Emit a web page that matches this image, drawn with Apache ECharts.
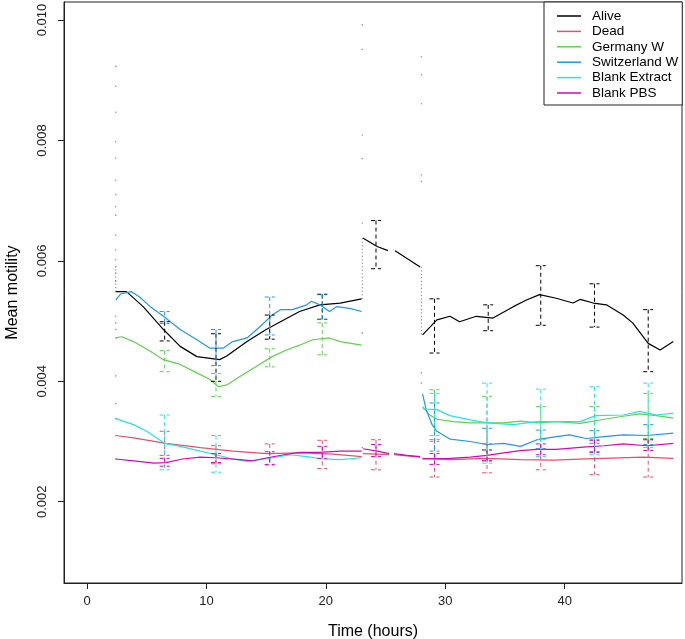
<!DOCTYPE html>
<html><head><meta charset="utf-8">
<script src="https://cdn.jsdelivr.net/npm/echarts@6/dist/echarts.min.js"></script>
<style>html,body{margin:0;padding:0;background:#fff}#c{width:685px;height:639px}</style>
</head><body><div id="c"></div>
<script>
// ---- tick labels ----
var xTicks = [0, 10, 20, 30, 40];
var yTicks = [0.002, 0.004, 0.006, 0.008, 0.010];
var names = ['Alive', 'Dead', 'Germany W', 'Switzerland W', 'Blank Extract', 'Blank PBS'];
var colors = ['#000000', '#DF536B', '#61D04F', '#2297E6', '#28E2E5', '#CD0BBC'];

// ---- Alive ----
var aliveX1 = [2.4, 3.3, 4.7, 6.4, 7.8, 9.2, 11.1, 11.7, 13.4, 15.0, 16.2, 17.8, 19.5, 21.2, 23.0];
var aliveY1 = [0.00549, 0.00549, 0.00524, 0.00486, 0.00458, 0.00441, 0.00436, 0.00442, 0.00466, 0.00486, 0.00499, 0.00516, 0.00527, 0.0053, 0.00537];
var aliveX2a = [23.1, 24.3, 25.2];
var aliveY2a = [0.00638, 0.00624, 0.00617];
var aliveX2b = [25.8, 26.8, 27.9];
var aliveY2b = [0.00617, 0.00604, 0.0059];
var aliveX3 = [28.1, 29.3, 30.4, 31.2, 32.6, 34.0, 35.7, 36.8, 37.9, 39.3, 40.7, 41.3, 42.4, 43.5, 44.9, 45.7, 47.0, 48.0, 49.1];
var aliveY3 = [0.00477, 0.00502, 0.00508, 0.00499, 0.00508, 0.00505, 0.00524, 0.00535, 0.00544, 0.00538, 0.0053, 0.00536, 0.0053, 0.00527, 0.0051, 0.00497, 0.00463, 0.00452, 0.00466];

// ---- Dead ----
var deadX1 = [2.4, 3.9, 6.6, 9.5, 12.2, 15.1, 17.8, 20.6, 23.0];
var deadY1 = [0.0031, 0.00306, 0.00297, 0.0029, 0.00284, 0.0028, 0.00281, 0.00279, 0.00275];
var deadX2a = [23.1, 24.3, 25.3];
var deadY2a = [0.0028, 0.00279, 0.00278];
var deadX2b = [25.7, 26.8, 27.9];
var deadY2b = [0.00278, 0.00276, 0.00274];
var deadX3 = [28.1, 30.4, 33.5, 36.3, 39.1, 41.8, 46.6, 49.1];
var deadY3 = [0.00272, 0.0027, 0.00272, 0.0027, 0.00269, 0.00271, 0.00274, 0.00272];

// ---- Germany W ----
var gerX1 = [2.4, 2.9, 3.9, 5.3, 6.4, 7.8, 9.2, 10.3, 11.0, 11.7, 12.8, 14.2, 15.5, 16.7, 17.8, 18.9, 20.3, 21.2, 23.0];
var gerY1 = [0.00472, 0.00474, 0.00466, 0.0045, 0.00436, 0.00428, 0.00414, 0.00403, 0.00391, 0.00394, 0.00408, 0.00425, 0.00441, 0.00452, 0.0046, 0.00469, 0.00472, 0.00466, 0.0046];
var gerX3 = [28.1, 28.7, 29.3, 30.7, 32.1, 34.9, 36.3, 37.7, 39.3, 41.3, 43.3, 44.9, 46.3, 47.7, 49.1];
var gerY3 = [0.00358, 0.00344, 0.00337, 0.00333, 0.00331, 0.00331, 0.00334, 0.00331, 0.00333, 0.0033, 0.00337, 0.00342, 0.00346, 0.00343, 0.00339];

// ---- Switzerland W ----
var swiX1 = [2.4, 2.8, 3.7, 4.4, 5.3, 6.4, 7.8, 9.2, 10.3, 11.4, 12.2, 13.4, 14.5, 15.5, 16.2, 17.2, 18.4, 18.8, 19.5, 20.3, 20.9, 22.0, 23.0];
var swiY1 = [0.00535, 0.00545, 0.00549, 0.0054, 0.00524, 0.00508, 0.00486, 0.00469, 0.00455, 0.00455, 0.00466, 0.00472, 0.00491, 0.0051, 0.00519, 0.00519, 0.00527, 0.00533, 0.00527, 0.00516, 0.00524, 0.00521, 0.00516];
var swiX3 = [28.1, 28.4, 28.9, 29.3, 30.4, 32.1, 33.5, 34.9, 36.3, 37.7, 39.3, 40.4, 41.8, 43.3, 44.9, 46.9, 49.1];
var swiY3 = [0.00379, 0.00353, 0.00328, 0.00317, 0.00304, 0.003, 0.00295, 0.00297, 0.00292, 0.00303, 0.00308, 0.00311, 0.00305, 0.00308, 0.00311, 0.0031, 0.00314];

// ---- Blank Extract ----
var extX1 = [2.4, 3.9, 5.0, 6.5, 7.8, 9.5, 10.8, 12.2, 13.4, 14.5, 15.6, 17.0, 18.4, 19.8, 21.2, 23.0];
var extY1 = [0.00338, 0.00328, 0.00317, 0.00297, 0.00292, 0.00284, 0.00278, 0.00271, 0.00267, 0.0027, 0.00273, 0.00278, 0.00275, 0.00271, 0.0027, 0.00273];
var extX3 = [28.1, 29.3, 30.4, 32.1, 33.5, 35.7, 37.7, 39.3, 41.3, 42.6, 44.9, 46.3, 47.7, 49.1];
var extY3 = [0.00354, 0.00353, 0.00343, 0.00336, 0.00331, 0.00328, 0.00333, 0.00333, 0.00333, 0.00343, 0.00344, 0.0035, 0.00344, 0.00347];

// ---- Blank PBS ----
var pbsX1 = [2.4, 3.9, 5.6, 6.6, 8.0, 9.5, 10.8, 12.8, 13.9, 15.1, 16.5, 17.8, 19.5, 21.2, 23.0];
var pbsY1 = [0.00271, 0.00268, 0.00264, 0.00265, 0.00271, 0.00274, 0.00273, 0.0027, 0.00268, 0.00273, 0.00278, 0.00282, 0.00282, 0.00284, 0.00284];
var pbsX2a = [23.1, 24.3, 25.3];
var pbsY2a = [0.00288, 0.00284, 0.0028];
var pbsX2b = [25.7, 26.8, 27.9];
var pbsY2b = [0.0028, 0.00277, 0.00275];
var pbsX3 = [28.1, 30.4, 32.1, 33.5, 34.9, 36.3, 37.7, 39.3, 41.8, 43.3, 44.9, 46.9, 49.1];
var pbsY3 = [0.00271, 0.00272, 0.00274, 0.00277, 0.00281, 0.00285, 0.00287, 0.00287, 0.00291, 0.00293, 0.00296, 0.00293, 0.00297];

// ---- error bars [time, low, high] ----
var errAlive = [[6.5, 0.00467, 0.00499], [10.8, 0.0040, 0.00479], [15.3, 0.0047, 0.0051], [19.7, 0.00503, 0.00544], [24.2, 0.00587, 0.00667],
  [29.1, 0.00447, 0.00537], [33.6, 0.00484, 0.00527], [38.0, 0.00493, 0.00592], [42.5, 0.0049, 0.00562], [47.0, 0.00416, 0.00519]];
var errDead = [[6.5, 0.00277, 0.00317], [10.8, 0.00263, 0.00293], [15.3, 0.00261, 0.00296], [19.7, 0.00255, 0.00302], [24.2, 0.00253, 0.00303],
  [29.1, 0.00241, 0.00303], [33.5, 0.00248, 0.00296], [38.0, 0.00253, 0.00288], [42.5, 0.00245, 0.00297], [47.0, 0.00241, 0.00303]];
var errGer = [[6.5, 0.00416, 0.00451], [10.8, 0.00375, 0.00413], [15.3, 0.00424, 0.00454], [19.7, 0.00444, 0.00497],
  [29.1, 0.003, 0.00386], [33.5, 0.00286, 0.00375], [38.0, 0.00303, 0.00358], [42.5, 0.00303, 0.00358], [47.0, 0.00305, 0.0038]];
var errSwi = [[6.5, 0.00496, 0.00516], [10.8, 0.00426, 0.00486], [15.3, 0.00477, 0.0054], [19.7, 0.00503, 0.00545],
  [29.1, 0.00284, 0.00364], [33.5, 0.00268, 0.00322], [38.0, 0.00288, 0.00319], [42.5, 0.00283, 0.00318], [47.0, 0.00295, 0.00328]];
var errExt = [[6.5, 0.00253, 0.00344], [10.8, 0.00249, 0.0031],
  [29.1, 0.0031, 0.0038], [33.5, 0.00264, 0.00397], [38.0, 0.00275, 0.00387], [42.5, 0.00278, 0.00391], [47.0, 0.0029, 0.00397]];
var errPbs = [[6.5, 0.00259, 0.00272], [10.8, 0.00265, 0.0028], [15.3, 0.00262, 0.00283], [19.7, 0.00272, 0.00292], [24.2, 0.00275, 0.00295],
  [29.1, 0.00262, 0.0028], [33.5, 0.00268, 0.00286], [38.0, 0.00278, 0.00296], [42.5, 0.00282, 0.00302], [47.0, 0.00285, 0.00303]];

// ---- scattered first-observation dots and dotted jumps ----
var dots = [[2.4, 0.00923], [2.4, 0.0089], [2.4, 0.00847], [2.4, 0.00798], [2.4, 0.00771], [2.4, 0.00734], [2.4, 0.0071], [2.4, 0.0069],
  [2.4, 0.00676], [2.4, 0.00643], [2.4, 0.00618], [2.4, 0.00602], [2.4, 0.0059], [2.4, 0.0058], [2.4, 0.00566], [2.4, 0.00508],
  [2.4, 0.00497], [2.4, 0.00486], [2.4, 0.00472], [2.4, 0.00409], [2.4, 0.00363], [2.4, 0.00338], [2.4, 0.0031], [2.4, 0.00271],
  [23.05, 0.00992], [23.05, 0.00951], [23.05, 0.00809], [23.05, 0.0077], [23.05, 0.00663], [23.05, 0.0048], [23.05, 0.0029],
  [28.0, 0.00939], [28.0, 0.00909], [28.0, 0.00861], [28.0, 0.00743], [28.0, 0.00732], [28.0, 0.00414], [28.0, 0.00397]];
var jumpA = [[23.05, 0.00537], [23.05, 0.00638]];
var jumpB = [[28.0, 0.0059], [28.0, 0.00477]];
var jumpC = [[2.4, 0.00549], [2.4, 0.0059]];

function pairs(xs, ys) { return xs.map(function (x, i) { return [x, ys[i]]; }); }
function joinSegs(segs) {
  var out = [];
  segs.forEach(function (s, i) {
    if (i > 0) out.push([s[0][0] - 0.05, null]);
    out = out.concat(s);
  });
  return out;
}

var lineData = [
  joinSegs([pairs(aliveX1, aliveY1), pairs(aliveX2a, aliveY2a), pairs(aliveX2b, aliveY2b), pairs(aliveX3, aliveY3)]),
  joinSegs([pairs(deadX1, deadY1), pairs(deadX2a, deadY2a), pairs(deadX2b, deadY2b), pairs(deadX3, deadY3)]),
  joinSegs([pairs(gerX1, gerY1), pairs(gerX3, gerY3)]),
  joinSegs([pairs(swiX1, swiY1), pairs(swiX3, swiY3)]),
  joinSegs([pairs(extX1, extY1), pairs(extX3, extY3)]),
  joinSegs([pairs(pbsX1, pbsY1), pairs(pbsX2a, pbsY2a), pairs(pbsX2b, pbsY2b), pairs(pbsX3, pbsY3)])
];
var errData = [errAlive, errDead, errGer, errSwi, errExt, errPbs];

var series = [];
names.forEach(function (n, i) {
  series.push({
    name: n, type: 'line', data: lineData[i], showSymbol: false, symbol: 'none',
    connectNulls: false, color: colors[i],
    lineStyle: { width: 1.2, color: colors[i] }, z: 2, silent: true
  });
});
names.forEach(function (n, i) {
  var c = colors[i];
  series.push({
    name: n + ' err', type: 'custom', data: errData[i], encode: { x: 0, y: [1, 2] }, z: 3, silent: true,
    renderItem: function (params, api) {
      var x = api.value(0), lo = api.value(1), hi = api.value(2);
      var pLo = api.coord([x, lo]), pHi = api.coord([x, hi]);
      var w = 5;
      var st = { stroke: c, lineWidth: 1, lineDash: [4, 3], fill: null };
      return { type: 'group', children: [
        { type: 'line', shape: { x1: pLo[0], y1: pHi[1], x2: pLo[0], y2: pLo[1] }, style: st },
        { type: 'line', shape: { x1: pHi[0] - w, y1: pHi[1], x2: pHi[0] + w, y2: pHi[1] }, style: st },
        { type: 'line', shape: { x1: pLo[0] - w, y1: pLo[1], x2: pLo[0] + w, y2: pLo[1] }, style: st }
      ] };
    }
  });
});
series.push({ name: 'dots', type: 'scatter', data: dots, symbolSize: 1.6, itemStyle: { color: '#7a7a9a' }, silent: true, z: 1 });
[jumpA, jumpB, jumpC].forEach(function (j) {
  series.push({ name: 'jump', type: 'line', data: j, showSymbol: false, symbol: 'none', silent: true,
    lineStyle: { width: 1, type: [1, 2.5], color: '#666' }, z: 1 });
});

var FONT = 'Liberation Sans, Arial, sans-serif';
var chart = echarts.init(document.getElementById('c'), null, { renderer: 'canvas' });
chart.setOption({
  animation: false,
  backgroundColor: '#fff',
  grid: { left: 64, right: 3, top: 2, bottom: 56, outerBoundsMode: 'none', containLabel: false,
    show: true, borderColor: '#222', borderWidth: 1, backgroundColor: 'transparent' },
  xAxis: {
    type: 'value', min: -1.93, max: 49.83,
    name: 'Time (hours)', nameLocation: 'middle', nameGap: 41,
    nameTextStyle: { fontFamily: FONT, fontSize: 16, color: '#000' },
    axisLine: { show: true, onZero: false, lineStyle: { color: '#222', width: 1 } },
    axisTick: { show: true, length: 6, lineStyle: { color: '#222' }, customValues: xTicks },
    axisLabel: { show: true, margin: 12, fontFamily: FONT, fontSize: 13, color: '#222', customValues: xTicks,
      formatter: function (v) { return String(v); } },
    splitLine: { show: false }
  },
  yAxis: {
    type: 'value', min: 0.00065, max: 0.0103,
    name: 'Mean motility', nameLocation: 'middle', nameGap: 43,
    nameTextStyle: { fontFamily: FONT, fontSize: 16, color: '#000' },
    axisLine: { show: true, onZero: false, lineStyle: { color: '#222', width: 1 } },
    axisTick: { show: true, length: 6, lineStyle: { color: '#222' }, customValues: yTicks },
    axisLabel: { show: true, rotate: 90, margin: 15, fontFamily: FONT, fontSize: 13, color: '#222', customValues: yTicks,
      formatter: function (v) { return v.toFixed(3); } },
    splitLine: { show: false }
  },
  legend: {
    data: names, orient: 'vertical', left: 544, top: 2,
    padding: [7, 4, 5, 13], itemGap: 1.4, itemWidth: 24, itemHeight: 1.5, icon: 'rect',
    borderColor: '#222', borderWidth: 1, backgroundColor: '#fff',
    selectedMode: false,
    textStyle: { fontFamily: FONT, fontSize: 13.5, color: '#000', lineHeight: 14, padding: [0, 0, 0, 6] }
  },
  series: series
});
</script></body></html>
